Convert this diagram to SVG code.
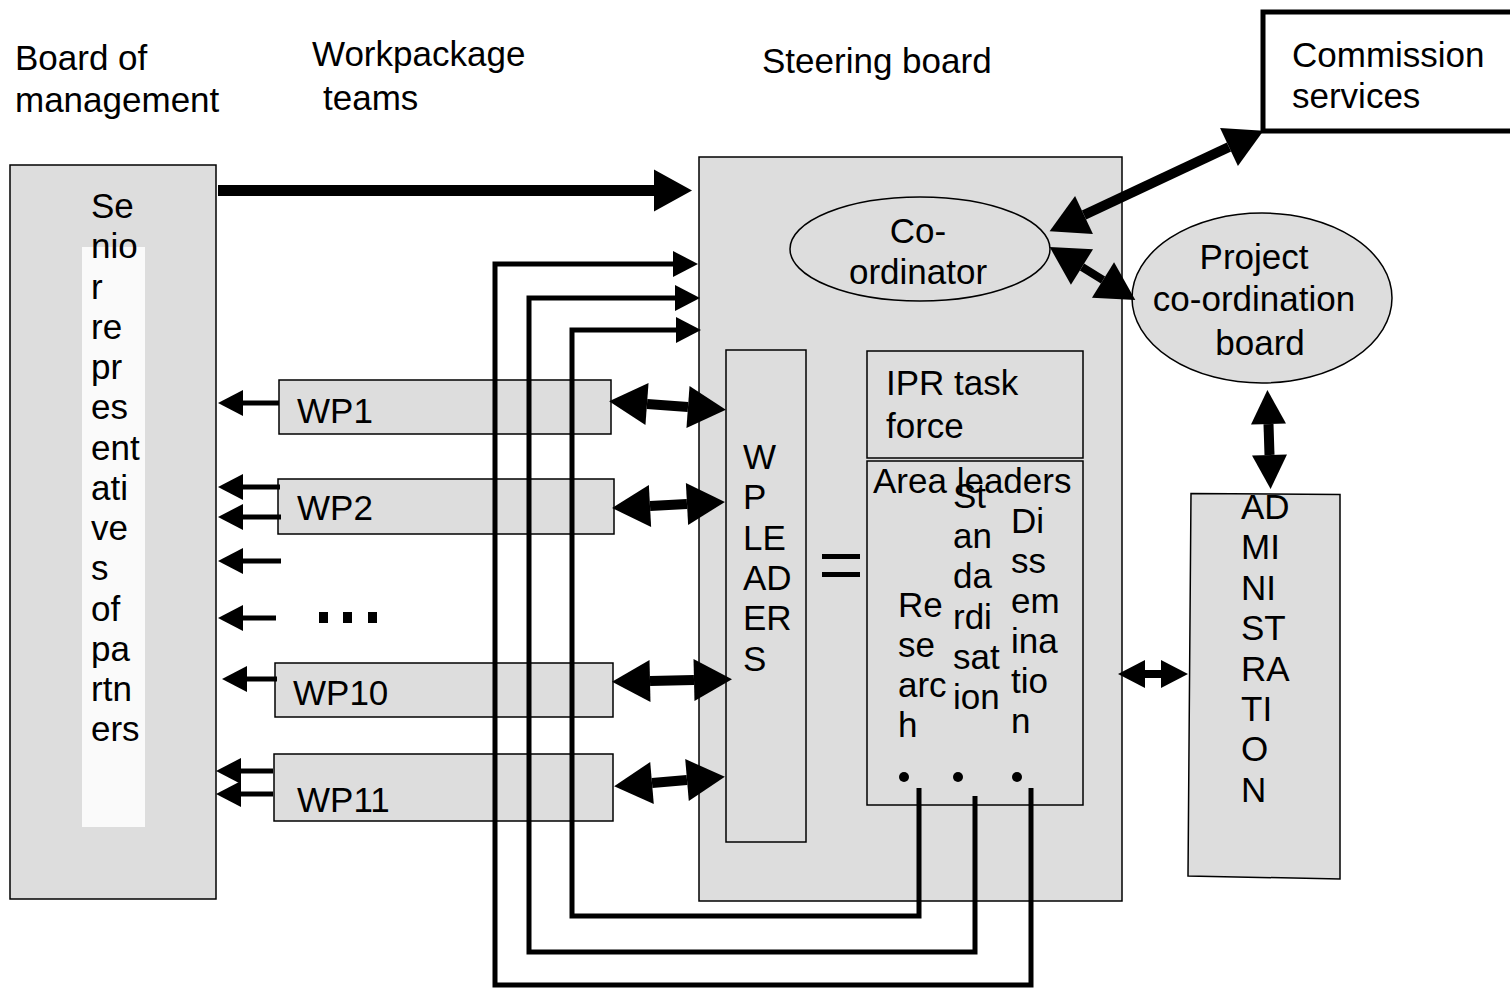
<svg xmlns="http://www.w3.org/2000/svg" width="1510" height="989" viewBox="0 0 1510 989">
<style>
text{font-family:"Liberation Sans",Arial,sans-serif;font-size:35px;fill:#000}
.box{fill:#dddddd;stroke:#000;stroke-width:1.5}
.thin{fill:none;stroke:#000;stroke-width:5}
.thick{fill:none;stroke:#000;stroke-width:10}
.mid{fill:none;stroke:#000;stroke-width:8}
.c{text-anchor:middle}
</style>
<defs>
<marker id="ha" markerUnits="userSpaceOnUse" viewBox="0 -14 26 28" markerWidth="26" markerHeight="28" refX="0" refY="0" orient="auto-start-reverse" overflow="visible">
<path d="M0,-13 L25,0 L0,13 z" fill="#000"/>
</marker>
<marker id="hb" markerUnits="userSpaceOnUse" viewBox="0 -22 40 44" markerWidth="40" markerHeight="44" refX="0" refY="0" orient="auto-start-reverse" overflow="visible">
<path d="M0,-21 L38,0 L0,21 z" fill="#000"/>
</marker>
<marker id="hc" markerUnits="userSpaceOnUse" viewBox="0 -15 30 30" markerWidth="30" markerHeight="30" refX="0" refY="0" orient="auto-start-reverse" overflow="visible">
<path d="M0,-14 L27,0 L0,14 z" fill="#000"/>
</marker>
<marker id="hd" markerUnits="userSpaceOnUse" viewBox="0 -18 36 36" markerWidth="36" markerHeight="36" refX="0" refY="0" orient="auto-start-reverse" overflow="visible">
<path d="M0,-17.5 L34,0 L0,17.5 z" fill="#000"/>
</marker>
</defs>

<g id="labels">
<text x="15" y="70">Board of</text>
<text x="15" y="112">management</text>
<text x="312" y="66">Workpackage</text>
<text x="323" y="110">teams</text>
<text x="762" y="73">Steering board</text>
</g>

<g id="commission">
<rect x="1263" y="12" width="270" height="119" fill="#fff" stroke="#000" stroke-width="5"/>
<text x="1292" y="67">Commission</text>
<text x="1292" y="108">services</text>
</g>

<g id="board-of-management">
<rect class="box" x="10" y="165" width="206" height="734"/>
<rect x="82" y="247" width="63" height="580" fill="#fafafa"/>
<text x="91" y="218">Se<tspan x="91" dy="40.25">nio</tspan><tspan x="91" dy="40.25">r</tspan><tspan x="91" dy="40.25">re</tspan><tspan x="91" dy="40.25">pr</tspan><tspan x="91" dy="40.25">es</tspan><tspan x="91" dy="40.25">ent</tspan><tspan x="91" dy="40.25">ati</tspan><tspan x="91" dy="40.25">ve</tspan><tspan x="91" dy="40.25">s</tspan><tspan x="91" dy="40.25">of</tspan><tspan x="91" dy="40.25">pa</tspan><tspan x="91" dy="40.25">rtn</tspan><tspan x="91" dy="40.25">ers</tspan></text>
</g>

<g id="steering-board">
<rect class="box" x="699" y="157" width="423" height="744"/>
</g>

<g id="wp1"><rect class="box" x="279" y="380" width="332" height="54"/><text x="297" y="423">WP1</text></g>
<g id="wp2"><rect class="box" x="278" y="479" width="336" height="55"/><text x="297" y="520">WP2</text></g>
<g id="wp-dots"><rect x="319" y="612" width="9" height="11"/><rect x="343" y="612" width="9" height="11"/><rect x="368" y="612" width="9" height="11"/></g>
<g id="wp10"><rect class="box" x="275" y="663" width="338" height="54"/><text x="293" y="705">WP10</text></g>
<g id="wp11"><rect class="box" x="274" y="754" width="339" height="67"/><text x="297" y="812">WP11</text></g>

<g id="coordinator">
<ellipse class="box" cx="920" cy="249" rx="130" ry="52"/>
<text class="c" x="918" y="243">Co-</text>
<text class="c" x="918" y="284">ordinator</text>
</g>

<g id="project-board">
<ellipse class="box" cx="1262" cy="298" rx="130" ry="85"/>
<text class="c" x="1254" y="269">Project</text>
<text class="c" x="1254" y="311">co-ordination</text>
<text class="c" x="1260" y="355">board</text>
</g>

<g id="wp-leaders">
<rect class="box" x="726" y="350" width="80" height="492"/>
<text x="743" y="469">W<tspan x="743" dy="40.3">P</tspan><tspan x="743" dy="40.3">LE</tspan><tspan x="743" dy="40.3">AD</tspan><tspan x="743" dy="40.3">ER</tspan><tspan x="743" dy="40.3">S</tspan></text>
</g>

<g id="equals"><rect x="822" y="554" width="38" height="5"/><rect x="822" y="572" width="38" height="5"/></g>

<g id="ipr">
<rect class="box" x="867" y="351" width="216" height="107"/>
<text x="886" y="395">IPR task</text>
<text x="886" y="438">force</text>
</g>

<g id="area-leaders">
<rect class="box" x="867" y="461" width="216" height="344"/>
<text x="873" y="493">Area leaders</text>
<text x="898" y="617">Re<tspan x="898" dy="40">se</tspan><tspan x="898" dy="40">arc</tspan><tspan x="898" dy="40">h</tspan></text>
<text x="953" y="508">St<tspan x="953" dy="40.2">an</tspan><tspan x="953" dy="40.2">da</tspan><tspan x="953" dy="40.2">rdi</tspan><tspan x="953" dy="40.2">sat</tspan><tspan x="953" dy="40.2">ion</tspan></text>
<text x="1011" y="533">Di<tspan x="1011" dy="40">ss</tspan><tspan x="1011" dy="40">em</tspan><tspan x="1011" dy="40">ina</tspan><tspan x="1011" dy="40">tio</tspan><tspan x="1011" dy="40">n</tspan></text>
<circle cx="904" cy="777" r="5"/><circle cx="958" cy="777" r="5"/><circle cx="1017" cy="777" r="5"/>
</g>

<g id="administration">
<polygon class="box" points="1191,493.5 1340,494.5 1340,879 1188,876"/>
<text x="1241" y="519">AD<tspan x="1241" dy="40.4">MI</tspan><tspan x="1241" dy="40.4">NI</tspan><tspan x="1241" dy="40.4">ST</tspan><tspan x="1241" dy="40.4">RA</tspan><tspan x="1241" dy="40.4">TI</tspan><tspan x="1241" dy="40.4">O</tspan><tspan x="1241" dy="40.4">N</tspan></text>
</g>

<g id="connectors">
<polyline class="thin" points="1031,788 1031,985 495,985 495,264 673,264" marker-end="url(#ha)"/>
<polyline class="thin" points="975,796 975,952 529,952 529,298 675,298" marker-end="url(#ha)"/>
<polyline class="thin" points="919,788 919,916 572,916 572,330 676,330" marker-end="url(#ha)"/>
<line class="thin" x1="279" y1="403" x2="243" y2="403" marker-end="url(#ha)"/>
<line class="thin" x1="280" y1="487" x2="243" y2="487" marker-end="url(#ha)"/>
<line class="thin" x1="281" y1="517" x2="243" y2="517" marker-end="url(#ha)"/>
<line class="thin" x1="281" y1="561" x2="243" y2="561" marker-end="url(#ha)"/>
<line class="thin" x1="276" y1="618" x2="243" y2="618" marker-end="url(#ha)"/>
<line class="thin" x1="277" y1="679" x2="247" y2="679" marker-end="url(#ha)"/>
<line class="thin" x1="273" y1="771" x2="241" y2="771" marker-end="url(#ha)"/>
<line class="thin" x1="273" y1="794" x2="241" y2="794" marker-end="url(#ha)"/>
<line x1="218" y1="190.5" x2="654" y2="190.5" stroke="#000" stroke-width="11" marker-end="url(#hb)"/>
<line class="thick" x1="647" y1="404" x2="688" y2="407" marker-start="url(#hb)" marker-end="url(#hb)"/>
<line class="thick" x1="650" y1="506" x2="687" y2="504" marker-start="url(#hb)" marker-end="url(#hb)"/>
<line class="thick" x1="650" y1="681" x2="694" y2="680" marker-start="url(#hb)" marker-end="url(#hb)"/>
<line class="thick" x1="652" y1="783" x2="687" y2="780" marker-start="url(#hb)" marker-end="url(#hb)"/>
<line class="thick" x1="1229" y1="147" x2="1084" y2="215" marker-start="url(#hb)" marker-end="url(#hb)"/>
<line class="mid" x1="1082" y1="267" x2="1103" y2="280" marker-start="url(#hb)" marker-end="url(#hb)"/>
<line class="thick" x1="1268.5" y1="424" x2="1269.5" y2="455" marker-start="url(#hd)" marker-end="url(#hd)"/>
<line class="mid" x1="1145" y1="674" x2="1161" y2="674" marker-start="url(#hc)" marker-end="url(#hc)"/>
</g>
</svg>
